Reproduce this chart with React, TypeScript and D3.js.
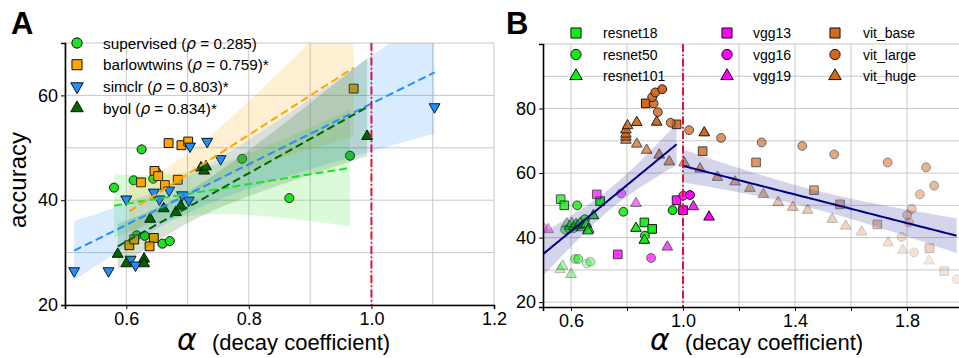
import React, { useRef, useEffect } from "react";
import * as d3 from "d3";

type Pt = [number, number];

const W = 959;
const H = 358;
const FONT = "Liberation Sans, Arial, Helvetica, sans-serif";
const MATH = "DejaVu Sans, sans-serif";
const RED = "#dc143c";

// ---- panel A: alpha vs linear-probe accuracy per training objective ----
const supervised: Pt[] = [
  [0.58, 42.4], [0.612, 43.8], [0.625, 49.7], [0.644, 44.1], [0.649, 45.4], [0.617, 33.3],
  [0.63, 33.2], [0.659, 31.7], [0.671, 32.2], [0.789, 47.9], [0.866, 40.4], [0.965, 48.5],
];
const barlowtwins: Pt[] = [
  [0.669, 50.9], [0.69, 50.5], [0.701, 51.2], [0.646, 45.6], [0.652, 44.6], [0.624, 43.4],
  [0.663, 42.9], [0.684, 43.9], [0.605, 31.4], [0.613, 32.5], [0.645, 32.8], [0.638, 31.2],
  [0.971, 61.3],
];
const simclr: Pt[] = [
  [0.704, 50.3], [0.732, 51.2], [0.645, 41.5], [0.654, 40.2], [0.67, 41.9], [0.691, 41.0],
  [0.702, 40.0], [0.6, 40.2], [0.754, 47.9], [0.515, 26.5], [0.571, 26.5], [0.607, 28.7],
  [0.615, 27.6], [1.103, 57.8],
];
const byol: Pt[] = [
  [0.722, 46.2], [0.727, 45.6], [0.73, 46.4], [0.661, 38.4], [0.681, 37.7], [0.689, 38.9],
  [0.639, 36.4], [0.586, 29.7], [0.6, 27.9], [0.629, 28.8], [0.629, 27.9], [0.993, 52.2],
];
const rhoA = ["0.285", "0.759", "0.803", "0.834"];
const starA = [false, true, true, true];

// ---- panel B: layers of pretrained nets (shallow -> deep) ----
const resnet18: Pt[] = [[0.563, 51.9], [0.576, 50.0], [0.704, 51.3], [0.862, 44.7], [0.89, 42.7]];
const resnet50: Pt[] = [
  [0.656, 32.0], [0.67, 32.5], [0.614, 33.4], [0.626, 33.4], [0.579, 42.5], [0.594, 42.8],
  [0.61, 43.0], [0.65, 45.7], [0.622, 50.0], [0.787, 48.0], [0.864, 40.6], [0.963, 48.5],
];
const resnet101: Pt[] = [
  [0.561, 30.1], [0.57, 31.2], [0.6, 28.6], [0.585, 44.3], [0.595, 43.6], [0.603, 44.4],
  [0.61, 43.4], [0.618, 44.1], [0.625, 43.8], [0.633, 44.5], [0.64, 43.1], [0.648, 43.9],
  [0.655, 44.2], [0.663, 42.6], [0.66, 42.1], [0.68, 46.8], [0.832, 42.9], [0.862, 39.2],
];
const vgg13: Pt[] = [[0.692, 53.4], [0.767, 34.8], [0.977, 51.6], [1.0, 48.5]];
const vgg16: Pt[] = [[0.501, 43.0], [0.779, 53.7], [0.886, 33.7], [1.001, 53.0], [1.025, 53.2]];
const vgg19: Pt[] = [[0.519, 42.5], [0.832, 50.6], [0.944, 37.1], [1.037, 49.6], [1.093, 46.4]];
const vitBase: Pt[] = [
  [1.933, 29.6], [1.88, 36.7], [1.694, 44.1], [1.561, 50.3], [1.468, 54.7], [1.261, 63.3],
  [1.07, 66.8], [0.977, 75.1], [0.867, 81.6],
];
const vitLarge: Pt[] = [
  [1.977, 27.1], [1.825, 35.4], [1.781, 40.2], [1.807, 44.7], [1.801, 47.0], [1.817, 48.9],
  [1.846, 53.4], [1.897, 56.1], [1.868, 61.8], [1.731, 63.3], [1.54, 65.8], [1.426, 68.4],
  [1.281, 69.5], [1.136, 70.9], [1.022, 73.3], [0.956, 75.6], [0.91, 78.9], [0.895, 81.6],
  [0.89, 83.5], [0.901, 85.0], [0.926, 86.0],
];
const vitHuge: Pt[] = [
  [1.879, 32.8], [1.785, 36.1], [1.733, 38.4], [1.638, 41.8], [1.581, 43.6], [1.533, 45.7],
  [1.445, 48.5], [1.392, 49.4], [1.34, 50.9], [1.287, 53.4], [1.239, 55.3], [1.186, 57.3],
  [1.123, 58.7], [1.061, 61.3], [1.004, 63.2], [0.951, 63.5], [0.915, 65.6], [0.87, 67.1],
  [0.835, 69.0], [0.796, 70.2], [0.796, 71.2], [0.796, 72.1], [0.796, 73.4], [0.802, 74.7],
  [0.835, 75.7], [0.906, 75.8], [1.076, 72.5],
];

const seriesA = [
  { name: "supervised", data: supervised, color: "#22e022", shape: "circle" },
  { name: "barlowtwins", data: barlowtwins, color: "#ffa500", shape: "square" },
  { name: "simclr", data: simclr, color: "#1e90ff", shape: "down" },
  { name: "byol", data: byol, color: "#006400", shape: "up" },
];

const GREEN = "#11ee11";
const MAGENTA = "#ff00ff";
const VIT = "#d2691e";
const seriesB = [
  { name: "resnet18", data: resnet18, color: GREEN, shape: "square", fade: 0.75 },
  { name: "resnet50", data: resnet50, color: GREEN, shape: "circle", fade: 0.3 },
  { name: "resnet101", data: resnet101, color: GREEN, shape: "up", fade: 0.3 },
  { name: "vgg13", data: vgg13, color: MAGENTA, shape: "square", fade: 0.7 },
  { name: "vgg16", data: vgg16, color: MAGENTA, shape: "circle", fade: 0.35 },
  { name: "vgg19", data: vgg19, color: MAGENTA, shape: "up", fade: 0.4 },
  { name: "vit_base", data: vitBase, color: VIT, shape: "square", fade: 0.2 },
  { name: "vit_large", data: vitLarge, color: VIT, shape: "circle", fade: 0.15 },
  { name: "vit_huge", data: vitHuge, color: VIT, shape: "up", fade: 0.15 },
];

function symbolPath(shape: string, k = 1) {
  if (shape === "circle") return d3.symbol(d3.symbolCircle, 64 * k)();
  if (shape === "square") return d3.symbol(d3.symbolSquare, 78 * k)();
  return d3.symbol(d3.symbolTriangle, 52 * k)();
}

// OLS fit with analytic 95% confidence band over the data's x range
function fitBand(pts: Pt[], steps = 60) {
  const n = pts.length;
  const mx = d3.mean(pts, (p) => p[0]) as number;
  const my = d3.mean(pts, (p) => p[1]) as number;
  let sxx = 0;
  let sxy = 0;
  pts.forEach(([x, y]) => {
    sxx += (x - mx) ** 2;
    sxy += (x - mx) * (y - my);
  });
  const b = sxy / sxx;
  const a = my - b * mx;
  const s = Math.sqrt(d3.sum(pts, ([x, y]) => (y - a - b * x) ** 2) / (n - 2));
  const t = 1.96 + 2.4 / (n - 2);
  const [lo, hi] = d3.extent(pts, (p) => p[0]) as [number, number];
  return d3.range(steps + 1).map((i) => {
    const x = lo + ((hi - lo) * i) / steps;
    const yh = a + b * x;
    const se = s * Math.sqrt(1 / n + (x - mx) ** 2 / sxx);
    return { x, y: yh, y0: yh - t * se, y1: yh + t * se };
  });
}

function drawMarker(g: any, shape: string, x: number, y: number, fill: string, opacity: number, k = 1) {
  g.append("path")
    .attr("d", symbolPath(shape, k))
    .attr("transform", `translate(${x},${y})${shape === "down" ? " rotate(180)" : ""}`)
    .attr("fill", fill)
    .attr("stroke", "#111")
    .attr("stroke-width", 1)
    .attr("opacity", opacity);
}

function drawGrid(g: any, x: any, y: any, xs: number[], ys: number[]) {
  const [x0, x1] = x.range();
  const [y0, y1] = y.range();
  g.append("g")
    .selectAll("line")
    .data(xs)
    .join("line")
    .attr("x1", (d: number) => x(d))
    .attr("x2", (d: number) => x(d))
    .attr("y1", y0)
    .attr("y2", y1)
    .attr("stroke", "#c8c8c8")
    .attr("stroke-width", 1);
  g.append("g")
    .selectAll("line")
    .data(ys)
    .join("line")
    .attr("x1", x0)
    .attr("x2", x1)
    .attr("y1", (d: number) => y(d))
    .attr("y2", (d: number) => y(d))
    .attr("stroke", "#c8c8c8")
    .attr("stroke-width", 1);
}

function drawAxes(g: any, x: any, y: any, xTicks: number[], xLabels: number[], yTicks: number[]) {
  const xa = g
    .append("g")
    .attr("transform", `translate(0,${y.range()[0]})`)
    .call(
      d3
        .axisBottom(x)
        .tickValues(xTicks)
        .tickSizeOuter(0)
        .tickSize(4)
        .tickFormat((d: any) => (xLabels.some((l) => Math.abs(l - d) < 1e-6) ? d3.format(".1f")(d) : "")),
    );
  const ya = g
    .append("g")
    .attr("transform", `translate(${x.range()[0]},0)`)
    .call(d3.axisLeft(y).tickValues(yTicks).tickSizeOuter(0).tickSize(4).tickFormat(d3.format("d")));
  [xa, ya].forEach((ax) => {
    ax.select(".domain").attr("stroke", "#000").attr("stroke-width", 1.6);
    ax.selectAll(".tick line").attr("stroke", "#000").attr("stroke-width", 1);
    ax.selectAll("text").attr("font-family", FONT).attr("font-size", 18).attr("fill", "#000");
  });
  xa.selectAll("text").attr("dy", "0.71em").attr("y", 7);
  ya.selectAll("text").attr("x", -7);
}

function xLabel(svg: any, alphaX: number, textX: number) {
  svg.append("text")
    .attr("x", alphaX)
    .attr("y", 350)
    .attr("font-family", MATH)
    .attr("font-style", "italic")
    .attr("font-size", 30)
    .text("α");
  svg.append("text")
    .attr("x", textX)
    .attr("y", 350)
    .attr("font-family", FONT)
    .attr("font-size", 22)
    .text("(decay coefficient)");
}

export default function App() {
  const svgRef = useRef<SVGSVGElement>(null);

  useEffect(() => {
    const svg = d3.select(svgRef.current);
    svg.selectAll("*").remove();
    const defs = svg.append("defs");

    // ================= Panel A =================
    const xA = d3.scaleLinear().domain([0.5, 1.2]).range([65, 494]);
    const yA = d3.scaleLinear().domain([20, 70]).range([305, 43]);
    defs.append("clipPath").attr("id", "clipA").append("rect").attr("x", 65).attr("y", 43).attr("width", 429).attr("height", 262);

    const gA = svg.append("g");
    drawGrid(gA, xA, yA, d3.range(5, 13).map((d) => d / 10), d3.range(20, 71, 10));

    const plotA = gA.append("g").attr("clip-path", "url(#clipA)");
    const fitsA = seriesA.map((s) => fitBand(s.data));
    seriesA.forEach((s, i) => {
      s.data.forEach(([a, acc]) => drawMarker(plotA, s.shape, xA(a), yA(acc), s.color, 1));
      plotA.append("path")
        .datum(fitsA[i])
        .attr("fill", s.color)
        .attr("fill-opacity", 0.17)
        .attr("d", d3.area<any>().x((d) => xA(d.x)).y0((d) => yA(d.y0)).y1((d) => yA(d.y1)));
    });
    seriesA.forEach((s, i) => {
      plotA.append("path")
        .datum(fitsA[i])
        .attr("fill", "none")
        .attr("stroke", s.color)
        .attr("stroke-width", 2)
        .attr("stroke-dasharray", "8,4")
        .attr("d", d3.line<any>().x((d) => xA(d.x)).y((d) => yA(d.y)));
    });
    gA.append("line")
      .attr("x1", xA(1)).attr("x2", xA(1))
      .attr("y1", yA.range()[1]).attr("y2", yA.range()[0])
      .attr("stroke", RED).attr("stroke-width", 2)
      .attr("stroke-dasharray", "8,2.5,1.5,2.5");

    drawAxes(gA, xA, yA, [0.6, 0.8, 1.0, 1.2], [0.6, 0.8, 1.0, 1.2], [20, 40, 60]);

    // legend A
    seriesA.forEach((s, i) => {
      const y = 43 + i * 21.7;
      drawMarker(gA, s.shape, 77, y, s.color, 1, 1.3);
      const t = gA.append("text").attr("x", 103).attr("y", y + 5.5).attr("font-family", FONT).attr("font-size", 15.3);
      t.append("tspan").text(`${s.name} (`);
      t.append("tspan").attr("font-family", MATH).attr("font-style", "italic").text("ρ");
      t.append("tspan").text(` = ${rhoA[i]})${starA[i] ? "*" : ""}`);
    });

    svg.append("text")
      .attr("transform", "translate(26,180) rotate(-90)")
      .attr("text-anchor", "middle")
      .attr("font-family", FONT)
      .attr("font-size", 24)
      .text("accuracy");
    svg.append("text").attr("x", 11).attr("y", 34).attr("font-family", FONT).attr("font-weight", "bold").attr("font-size", 31).text("A");
    xLabel(svg, 177, 212);

    // ================= Panel B =================
    const xB = d3.scaleLinear().domain([0.5, 2.0]).range([543, 963]);
    const yB = d3.scaleLinear().domain([18.5, 100]).range([307, 44]);
    defs.append("clipPath").attr("id", "clipB").append("rect").attr("x", 543).attr("y", 44).attr("width", 420).attr("height", 263);

    const gB = svg.append("g");
    drawGrid(gB, xB, yB, d3.range(6, 21, 2).map((d) => d / 10), d3.range(20, 101, 10));

    const plotB = gB.append("g").attr("clip-path", "url(#clipB)");
    gB.append("line")
      .attr("x1", xB(1)).attr("x2", xB(1))
      .attr("y1", yB.range()[1]).attr("y2", yB.range()[0])
      .attr("stroke", RED).attr("stroke-width", 2)
      .attr("stroke-dasharray", "8,2.5,1.5,2.5");

    seriesB.forEach((s) => {
      const n = s.data.length;
      s.data.forEach(([a, acc], i) => {
        const op = n > 1 ? s.fade + ((1 - s.fade) * i) / (n - 1) : 1;
        drawMarker(plotB, s.shape, xB(a), yB(acc), s.color, op, 0.95);
      });
    });

    const allB: Pt[] = seriesB.flatMap((s) => s.data);
    const groupsB = [allB.filter((p) => p[0] < 1), allB.filter((p) => p[0] >= 1)];
    groupsB.forEach((pts) => {
      const fit = fitBand(pts);
      plotB.append("path")
        .datum(fit)
        .attr("fill", "#000080")
        .attr("fill-opacity", 0.17)
        .attr("d", d3.area<any>().x((d) => xB(d.x)).y0((d) => yB(d.y0)).y1((d) => yB(d.y1)));
      plotB.append("path")
        .datum(fit)
        .attr("fill", "none")
        .attr("stroke", "#000080")
        .attr("stroke-width", 2)
        .attr("d", d3.line<any>().x((d) => xB(d.x)).y((d) => yB(d.y)));
    });

    drawAxes(gB, xB, yB, d3.range(6, 21, 2).map((d) => d / 10), [0.6, 1.0, 1.4, 1.8], [20, 40, 60, 80]);

    // legend B: 3 columns x 3 rows
    const colX = [576, 727, 835];
    const colT = [603, 753, 863];
    seriesB.forEach((s, i) => {
      const c = Math.floor(i / 3);
      const r = i % 3;
      const y = 33 + r * 21.5;
      drawMarker(gB, s.shape, colX[c], y, s.color, 1, 1.3);
      gB.append("text")
        .attr("x", colT[c])
        .attr("y", y + 5)
        .attr("font-family", FONT)
        .attr("font-size", 14)
        .text(s.name);
    });

    svg.append("text").attr("x", 506).attr("y", 34).attr("font-family", FONT).attr("font-weight", "bold").attr("font-size", 31).text("B");
    xLabel(svg, 650, 685);
  }, []);

  return (
    <div style={{ position: "absolute", left: 0, top: 0 }}>
      <svg ref={svgRef} width={W} height={H} style={{ display: "block", background: "#fff" }} />
    </div>
  );
}
